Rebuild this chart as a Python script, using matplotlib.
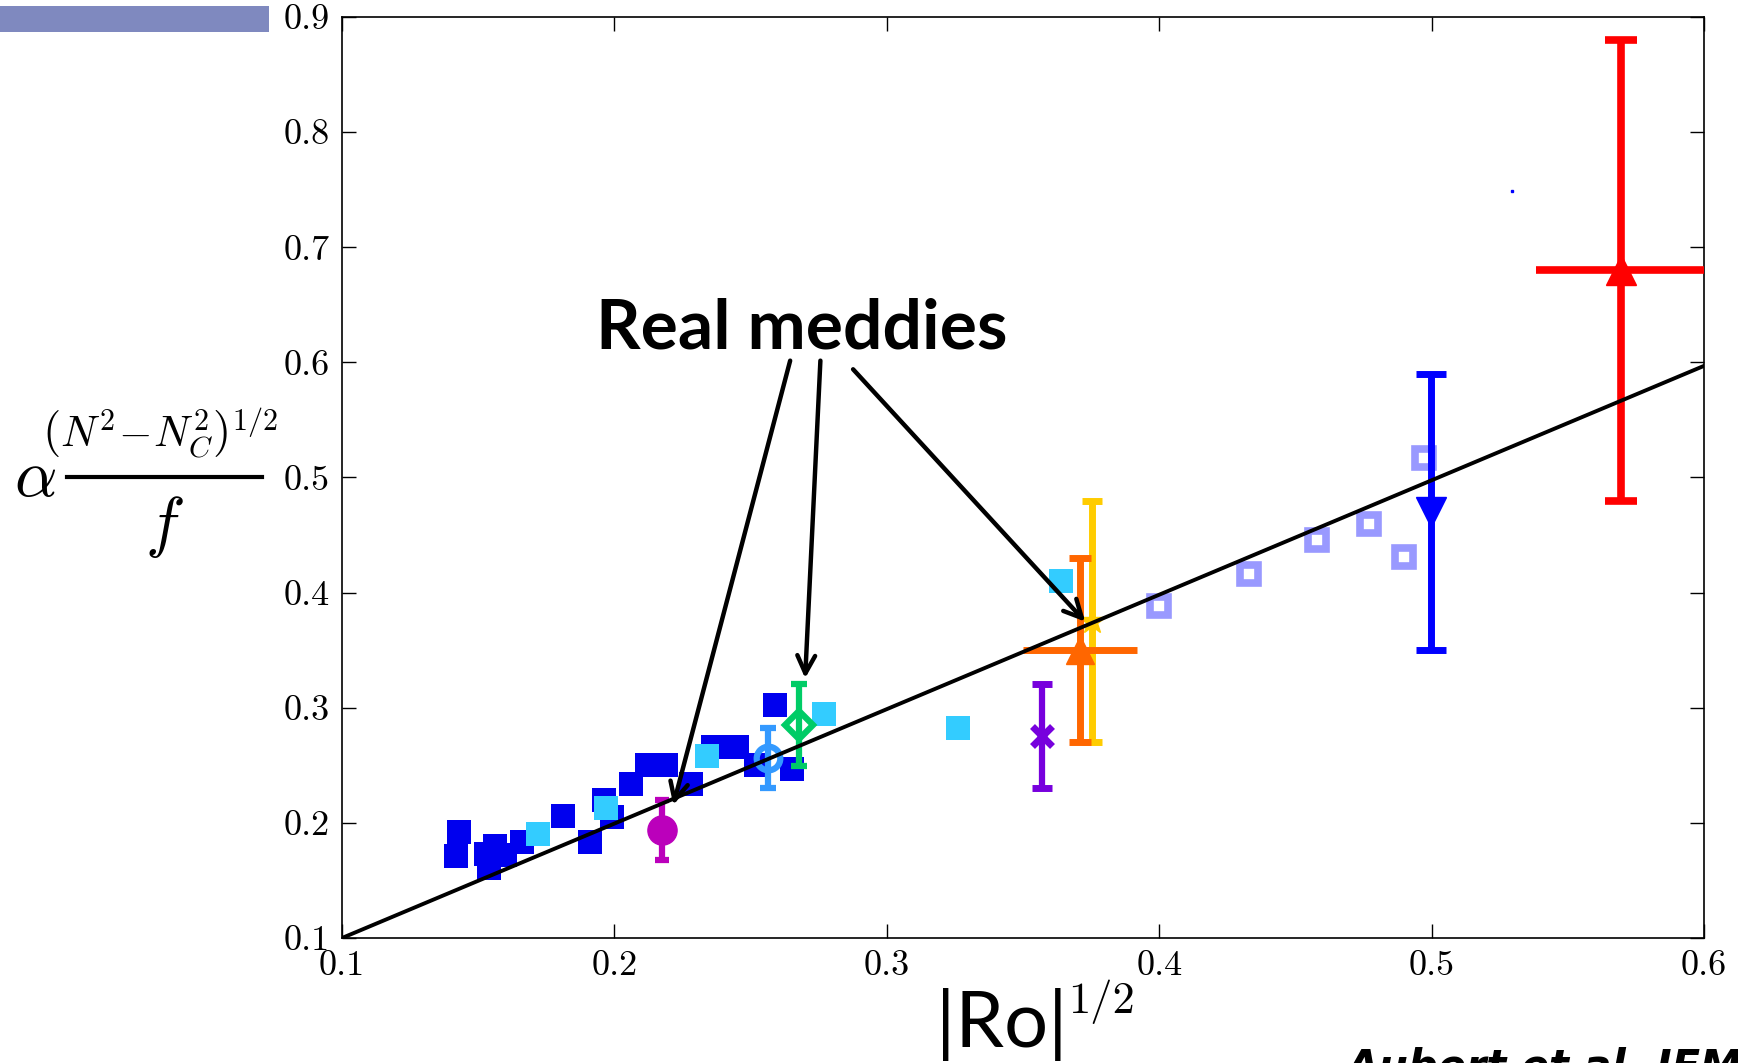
import numpy as np
import matplotlib.pyplot as plt
from matplotlib.lines import Line2D
from matplotlib.patches import Rectangle
from matplotlib.ticker import FuncFormatter

plt.rcParams['mathtext.fontset'] = 'cm'

# lab / numerical runs (filled squares)
dark_x = [0.143, 0.142, 0.156, 0.153, 0.154, 0.160, 0.166, 0.181, 0.191, 0.196,
          0.199, 0.206, 0.212, 0.219, 0.228, 0.236, 0.245, 0.252, 0.265, 0.259]
dark_y = [0.192, 0.171, 0.180, 0.173, 0.161, 0.172, 0.183, 0.206, 0.183, 0.220,
          0.205, 0.234, 0.250, 0.250, 0.234, 0.266, 0.266, 0.250, 0.247, 0.302]
light_x = [0.172, 0.197, 0.234, 0.277, 0.326, 0.364]
light_y = [0.190, 0.213, 0.258, 0.295, 0.282, 0.410]
# open squares
open_x = [0.400, 0.433, 0.458, 0.477, 0.490, 0.497]
open_y = [0.388, 0.416, 0.446, 0.460, 0.431, 0.517]

# single points with error bars
magenta_pt = (0.2174, 0.194, 0.026)
circle_pt = (0.2565, 0.256, 0.026)
green_pt = (0.2679, 0.285, 0.036)
purple_pt = (0.3569, 0.2755, 0.045)
orange_pt = (0.3709, 0.350, 0.021, 0.080)   # x, y, xerr, yerr
yellow_pt = (0.3752, 0.375, 0.105)
blue_pt = (0.4996, 0.470, 0.120)
red_pt = (0.5694, 0.680, 0.031, 0.200)
dot_pt = (0.5295, 0.749)

# fit line
line_x = [0.1, 0.6]
line_y = [0.1, 0.597]

# "Real meddies" arrows
arrow_starts = [(0.2645, 0.6015), (0.2756, 0.6015), (0.2876, 0.594)]
arrow_tips = [(0.2216, 0.2156), (0.2700, 0.3256), (0.3728, 0.3748)]

x_ticks = [0.1, 0.2, 0.3, 0.4, 0.5, 0.6]
y_ticks = [0.1, 0.2, 0.3, 0.4, 0.5, 0.6, 0.7, 0.8, 0.9]

fig = plt.figure(figsize=(17.38, 10.63), dpi=100)
ax = fig.add_axes([0.1968, 0.1176, 0.7837, 0.8664])

ax.plot(dark_x, dark_y, 's', color='#0000EE', ms=17.5, mew=0, zorder=2)
ax.plot(light_x, light_y, 's', color='#33CCFF', ms=17.5, mew=0, zorder=2)
ax.plot(open_x, open_y, 's', mfc='white', mec='#9999FF', ms=13, mew=5.5, zorder=2)

x, y, e = magenta_pt
ax.errorbar(x, y, yerr=e, fmt='o', color='#BB00BB', ms=21, lw=4.5,
            capsize=5, capthick=4.5, zorder=4)
x, y, e = circle_pt
ax.errorbar(x, y, yerr=e, fmt='o', color='#3399FF', mfc='none', ms=17, mew=4.5,
            lw=4.5, capsize=6, capthick=4.5, zorder=4)
x, y, e = green_pt
ax.errorbar(x, y, yerr=e, fmt='D', color='#00CC66', mfc='none', ms=14, mew=4.5,
            lw=4.5, capsize=5.5, capthick=4.5, zorder=4)
x, y, e = purple_pt
ax.errorbar(x, y, yerr=e, fmt='x', color='#7700DD', ms=15, mew=5,
            lw=4.5, capsize=7.5, capthick=4.5, zorder=4)
x, y, e = yellow_pt
ax.errorbar(x, y, yerr=e, fmt='*', color='#FFCC00', ms=20,
            lw=5, capsize=7.5, capthick=5, zorder=3)
x, y, ex, ey = orange_pt
ax.errorbar(x, y, yerr=ey, fmt='^', color='#FF6600', ms=20,
            lw=5, capsize=8, capthick=5, zorder=4)
ax.errorbar(x, y, xerr=ex, fmt='none', ecolor='#FF6600', lw=5, capsize=0, zorder=4)
x, y, e = blue_pt
ax.errorbar(x, y, yerr=e, fmt='v', color='#0000FF', ms=21,
            lw=5, capsize=10.5, capthick=5, zorder=4)
x, y, ex, ey = red_pt
ax.errorbar(x, y, yerr=ey, fmt='^', color='#FF0000', ms=21,
            lw=5.5, capsize=11.5, capthick=5.5, zorder=4)
ax.errorbar(x, y, xerr=ex, fmt='none', ecolor='#FF0000', lw=5.5, capsize=0, zorder=4)
ax.plot(dot_pt[0], dot_pt[1], 's', color='#0000FF', ms=1.5, zorder=4)

ax.plot(line_x, line_y, color='black', lw=2.8, zorder=5)

for (sx, sy), (tx, ty) in zip(arrow_starts, arrow_tips):
    ax.annotate('', xy=(tx, ty), xytext=(sx, sy),
                arrowprops=dict(arrowstyle='->', lw=3.2, color='black',
                                mutation_scale=32, shrinkA=0, shrinkB=0),
                zorder=6)
ax.text(0.2687, 0.6117, 'Real meddies', fontsize=50, fontweight='bold',
        family='Lato', ha='center', va='baseline', zorder=6)

ax.set_xlim(0.1, 0.6)
ax.set_ylim(0.1, 0.9)
ax.set_xticks(x_ticks)
ax.set_yticks(y_ticks)
ax.xaxis.set_major_formatter(FuncFormatter(lambda v, p: f'{v:.1f}'))
ax.yaxis.set_major_formatter(FuncFormatter(lambda v, p: f'{v:.1f}'))
ax.tick_params(direction='in', length=10, width=1, top=True, right=True,
               labelsize=26, pad=9)
for lab in ax.get_xticklabels() + ax.get_yticklabels():
    lab.set_fontfamily('cmr10')
for s in ax.spines.values():
    s.set_linewidth(1.2)

# y label built as a fraction
fig.text(35 / 1738, 1 - 477 / 1063, r'$\alpha$', fontsize=48, ha='center', va='center')
fig.text(160 / 1738, 1 - 434 / 1063, r'$\left(N^2\!-\!N_C^2\right)^{1/2}$', fontsize=31,
         ha='center', va='center')
fig.add_artist(Line2D([67 / 1738, 262 / 1738], [1 - 477 / 1063] * 2,
                      transform=fig.transFigure, color='black', lw=3))
fig.text(164 / 1738, 1 - 527 / 1063, r'$f$', fontsize=48, ha='center', va='center')

# x label
fig.text(936 / 1738, 1 - 1047 / 1063, '|Ro|', fontsize=56, family='Lato',
         ha='left', va='baseline')
fig.text(1068 / 1738, 1 - 980 / 1063, '1/2', fontsize=32, family='cmr10',
         ha='left', va='top')

fig.text(1347 / 1738, 1 - 1047 / 1063, 'Aubert et al. JFM', fontsize=30,
         style='italic', weight='bold', family='DejaVu Sans', ha='left', va='top')

fig.add_artist(Rectangle((0, 1 - 32 / 1063), 269 / 1738, 26 / 1063,
                         transform=fig.transFigure, color='#7F89BF', lw=0))

fig.savefig('out.png', dpi=100)
